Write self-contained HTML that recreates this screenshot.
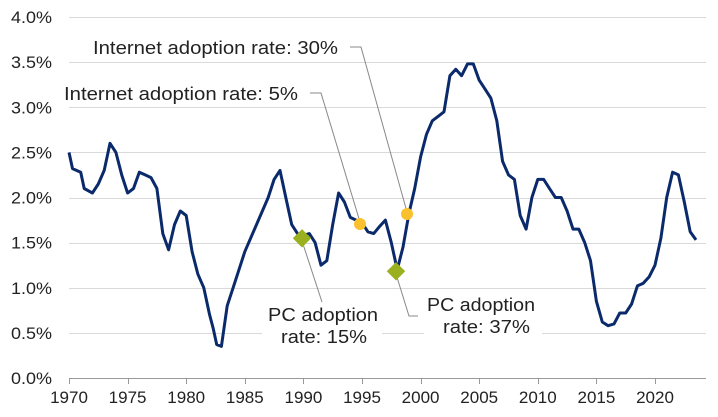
<!DOCTYPE html>
<html><head><meta charset="utf-8"><style>
body{margin:0;background:#fff;width:718px;height:417px;overflow:hidden}
svg{display:block;font-family:"Liberation Sans",sans-serif}
</style></head><body>
<svg id="c" width="718" height="417" viewBox="0 0 718 417">
<g id="grid" stroke="#d9d9d9" stroke-width="1"></g>
<g id="ylab" font-size="17" fill="#222" text-anchor="end"></g>
<g id="xlab" font-size="17" fill="#222" text-anchor="middle"></g>
<line x1="69" y1="378.5" x2="706" y2="378.5" stroke="#999" stroke-width="1"/>
<g id="ticks" stroke="#999"></g>
<rect x="88" y="34" width="255" height="26" fill="#fff"/>
<rect x="60" y="79" width="242" height="26" fill="#fff"/>
<rect x="262" y="298" width="120" height="48" fill="#fff"/>
<rect x="424" y="290" width="118" height="46" fill="#fff"/>
<g stroke="#888" stroke-width="1" fill="none">
<polyline points="350,47 361,47 407,212"/>
<polyline points="310,93 321,93 360,222"/>
<polyline points="302,241 322,302"/>
<polyline points="396,274 409,316 418,316"/>
</g>
<path id="line" fill="none" stroke="#0b2a6b" stroke-width="3" stroke-linejoin="round"/>
<g font-size="18" fill="#222">
<text x="93" y="54" textLength="245" lengthAdjust="spacingAndGlyphs">Internet adoption rate: 30%</text>
<text x="64" y="100" textLength="234" lengthAdjust="spacingAndGlyphs">Internet adoption rate: 5%</text>
<text x="268" y="321" textLength="110" lengthAdjust="spacingAndGlyphs">PC adoption</text>
<text x="281" y="343" textLength="86" lengthAdjust="spacingAndGlyphs">rate: 15%</text>
<text x="427" y="311" textLength="108" lengthAdjust="spacingAndGlyphs">PC adoption</text>
<text x="443" y="333" textLength="87" lengthAdjust="spacingAndGlyphs">rate: 37%</text>
</g>
<circle cx="360" cy="224" r="6" fill="#fbc02d"/>
<circle cx="407" cy="214" r="6" fill="#fbc02d"/>
<rect x="295" y="232" width="13" height="13" fill="#9bb01e" transform="rotate(45 302 239)"/>
<rect x="389" y="265" width="13" height="13" fill="#9bb01e" transform="rotate(45 396 272)"/>
</svg>
<script>
var X=function(y){return 69+(y-1970)*11.72},Y=function(v){return 378-v*90.25};
var ns="http://www.w3.org/2000/svg";
function el(p,t,a,txt){var e=document.createElementNS(ns,t);for(var k in a)e.setAttribute(k,a[k]);if(txt)e.textContent=txt;document.getElementById(p).appendChild(e);}
for(var i=1;i<=8;i++){var y=Math.round(Y(i*0.5))+0.5;el("grid","line",{x1:69,x2:706,y1:y,y2:y});}
for(var i=0;i<=8;i++){el("ylab","text",{x:52,y:Y(i*0.5)+6,textLength:41,lengthAdjust:"spacingAndGlyphs"},(i*0.5).toFixed(1)+"%");}
for(var i=0;i<=10;i++){var x=Math.round(X(1970+5*i))+0.5;el("ticks","line",{x1:x,x2:x,y1:378,y2:384});el("xlab","text",{x:X(1970+5*i),y:403},String(1970+5*i));}
var d=[1970,2.5,1970.3,2.32,1971,2.28,1971.3,2.1,1972,2.05,1972.5,2.15,1973,2.3,1973.5,2.6,1974,2.5,1974.5,2.25,1975,2.05,1975.5,2.1,1976,2.28,1976.5,2.25,1977,2.22,1977.5,2.1,1978,1.6,1978.5,1.42,1979,1.7,1979.5,1.85,1980,1.8,1980.5,1.4,1981,1.15,1981.5,1.0,1982,0.7,1982.3,0.55,1982.6,0.37,1983,0.35,1983.5,0.8,1984,1.0,1985,1.4,1986,1.7,1987,2.0,1987.5,2.2,1988,2.3,1988.5,2.0,1989,1.7,1989.5,1.6,1990,1.58,1990.5,1.6,1991,1.5,1991.5,1.25,1992,1.3,1992.5,1.7,1993,2.05,1993.5,1.95,1994,1.78,1994.5,1.75,1995,1.72,1995.5,1.62,1996,1.6,1996.5,1.68,1997,1.75,1997.5,1.5,1998,1.2,1998.5,1.45,1999,1.82,1999.5,2.1,2000,2.45,2000.5,2.7,2001,2.85,2001.5,2.9,2002,2.95,2002.5,3.35,2003,3.42,2003.5,3.35,2004,3.48,2004.5,3.48,2005,3.3,2005.5,3.2,2006,3.1,2006.5,2.85,2007,2.4,2007.5,2.25,2008,2.2,2008.5,1.8,2009,1.65,2009.5,2.0,2010,2.2,2010.5,2.2,2011,2.1,2011.5,2.0,2012,2.0,2012.5,1.85,2013,1.65,2013.5,1.65,2014,1.5,2014.5,1.3,2015,0.85,2015.5,0.62,2016,0.58,2016.5,0.6,2017,0.72,2017.5,0.72,2018,0.82,2018.5,1.02,2019,1.05,2019.5,1.12,2020,1.25,2020.5,1.55,2021,2.0,2021.5,2.28,2022,2.25,2022.5,1.95,2023,1.62,2023.5,1.53];
var p="";for(var i=0;i<d.length;i+=2)p+=(i?"L":"M")+X(d[i]).toFixed(1)+","+Y(d[i+1]).toFixed(1);
document.getElementById("line").setAttribute("d",p);
</script>
</body></html>
